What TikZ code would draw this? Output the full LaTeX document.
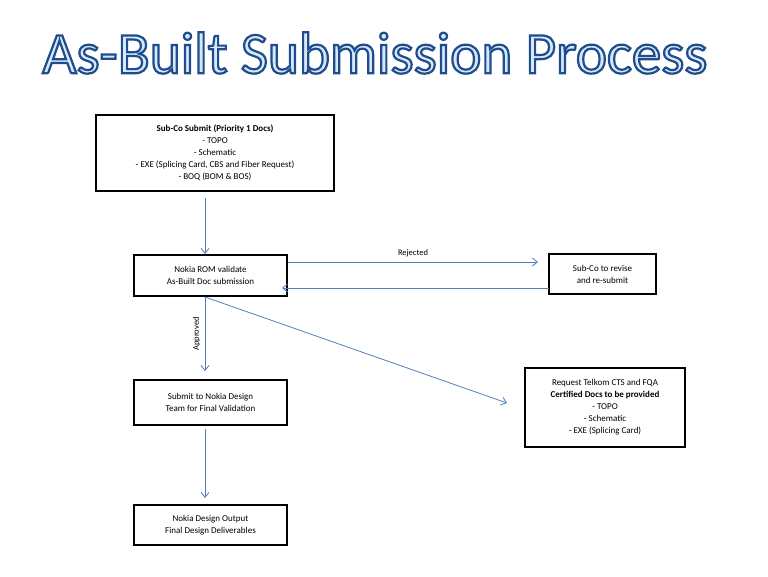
\documentclass[tikz,border=0pt]{standalone}
\usepackage{fontspec}
\setmainfont{Carlito}
\usetikzlibrary{arrows.meta}
\definecolor{arrc}{RGB}{79,129,189}
\begin{document}
\begin{tikzpicture}[x=1pt,y=-1pt,
  box/.style={draw,line width=1.3pt,align=center,inner sep=2pt,font=\fontsize{9}{12}\selectfont},
  arr/.style={draw=arrc,line width=0.8pt,-{Straight Barb[length=5pt,width=8pt]}},
  lbl/.style={font=\fontsize{8.5}{10}\selectfont}]
\useasboundingbox (0,0) rectangle (768,576);
\node (title) at (375,53) {\fontsize{59}{59}\selectfont\special{pdf:code q 2.2 w 2 Tr 0.12 0.3 0.55 RG 0.84 0.91 0.98 rg}As-Built Submission Process\special{pdf:code Q}};
\node[box,minimum width=238pt,minimum height=76pt] (b1) at (215,153) {\textbf{Sub-Co Submit (Priority 1 Docs)}\\- TOPO\\- Schematic\\- EXE (Splicing Card, CBS and Fiber Request)\\- BOQ (BOM \& BOS)};
\node[box,minimum width=153pt,minimum height=41pt] (b2) at (210.5,275.5) {Nokia ROM validate\\As-Built Doc submission};
\node[box,minimum width=107pt,minimum height=40pt] (b3) at (602.5,274) {Sub-Co to revise\\and re-submit};
\node[box,minimum width=153pt,minimum height=45pt] (b4) at (210.5,402.5) {Submit to Nokia Design\\Team for Final Validation};
\node[box,minimum width=153pt,minimum height=40pt] (b5) at (210.5,525) {Nokia Design Output\\Final Design Deliverables};
\node[box,minimum width=160pt,minimum height=79pt] (b6) at (605,407.5) {Request Telkom CTS and FQA\\\textbf{Certified Docs to be provided}\\- TOPO\\- Schematic\\- EXE (Splicing Card)};
\coordinate (a1s) at (205,198); \coordinate (a1e) at (205,254);
\draw[arr] (a1s) -- (a1e);
\coordinate (r1) at (288,262); \coordinate (r2) at (538,262);
\draw[arr] (r1) -- node[lbl,above=1pt]{Rejected} (r2);
\coordinate (s1) at (549,288); \coordinate (s2) at (282,288);
\draw[arr] (s1) -- (s2);
\coordinate (p1) at (205,297); \coordinate (p2) at (205,371);
\draw[arr] (p1) -- node[lbl,rotate=90,above=1pt]{Approved} (p2);
\coordinate (d2) at (507,403);
\draw[arr] (p1) -- (d2);
\coordinate (q1) at (205,429); \coordinate (q2) at (205,498);
\draw[arr] (q1) -- (q2);
\end{tikzpicture}
\end{document}
